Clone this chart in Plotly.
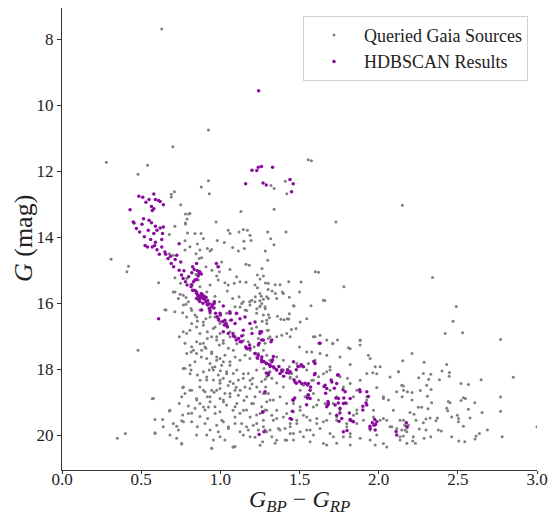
import plotly.graph_objects as go

# Queried Gaia sources: (BP-RP colour, G magnitude)
gaia_sources = [
    (0.63,7.69),(0.925,10.75),(0.70,11.26),(0.28,11.73),(0.54,11.82),(0.48,12.09),(0.925,12.29),(0.88,12.48),
    (0.69,12.70),(0.71,12.62),(0.69,12.78),(0.93,12.68),(0.75,13.02),(0.78,13.30),(0.80,13.30),(0.79,13.45),
    (0.78,13.60),(1.13,13.22),(1.41,12.30),(1.32,12.43),(1.34,12.52),(1.555,11.65),(1.575,11.68),(1.34,13.15),
    (1.42,12.68),(2.15,13.03),(1.73,13.54),(0.31,14.67),(0.42,14.88),(0.41,15.05),(0.61,15.38),(0.65,16.20),
    (0.48,17.43),(0.57,18.90),(0.35,20.10),(0.40,19.95),(1.78,15.50),(2.34,15.22),(1.66,15.92),(2.49,16.10),
    (2.47,16.55),(2.42,16.92),(2.53,16.90),(2.77,17.10),(2.85,18.25),(3.00,19.75),(2.78,20.05),(2.77,18.85),
    (2.77,19.28),(1.60,15.05),(1.62,15.06),
    # dense lower-left region
    (0.783,16.03),(0.815,16.16),(0.762,16.29),(0.713,16.26),(0.657,16.21),(0.787,16.42),(0.840,16.36),(0.871,16.21),
    (0.855,16.54),(0.909,16.47),(0.935,16.31),(0.966,16.42),(0.998,16.62),(1.040,16.31),(1.093,16.11),(1.135,16.01),
    (1.156,16.21),(1.187,16.06),(1.219,15.96),(1.250,16.11),(1.272,16.36),(1.293,16.52),(1.229,16.31),(0.819,16.62),
    (0.850,16.72),(0.893,16.67),(0.918,16.87),(0.956,16.77),(0.998,16.92),(0.766,16.87),(0.787,16.92),(0.741,17.02),
    (0.808,16.82),(0.871,16.92),(1.061,16.87),(1.093,17.02),(1.145,16.97),(1.198,16.77),(1.229,16.72),(1.261,16.87),
    (1.293,16.62),(1.303,16.82),(0.777,17.22),(0.819,17.32),(0.850,17.17),(0.893,17.22),(0.918,17.07),(0.945,17.02),
    (0.977,17.12),(0.994,17.27),(0.909,17.37),(0.882,17.43),(1.019,17.22),(1.051,17.37),(1.082,17.43),(1.177,17.17),
    (1.213,17.32),(1.240,17.07),(1.282,17.22),(1.303,17.07),(0.815,17.48),(0.850,17.53),(0.880,17.63),
    (0.914,17.68),(0.945,17.53),(0.977,17.73),(0.998,17.68),(1.029,17.58),(1.061,17.78),(1.093,17.63),(1.124,17.73),
    (1.156,17.58),(1.187,17.68),(1.240,17.53),(1.272,17.78),(1.293,17.58),(0.766,17.98),(0.808,17.88),(0.840,17.78),
    (0.935,17.83),(0.966,17.93),(1.008,17.88),(0.815,18.03),(0.855,18.18),(0.893,18.08),(0.930,18.03),(0.956,18.33),
    (0.987,18.18),(1.019,18.28),(1.040,18.08),(1.082,18.13),(1.114,18.33),(1.145,18.28),(1.177,18.13),(1.204,18.28),
    (1.229,18.03),(1.261,18.38),(1.293,18.23),(1.310,18.08),(0.914,18.33),(0.998,18.43),(1.061,18.38),(0.762,18.56),
    (0.808,18.64),(0.777,18.74),(0.871,18.54),(0.903,18.69),(0.945,18.64),(0.998,18.59),(1.029,18.74),(1.061,18.84),
    (1.093,18.64),(1.114,18.79),(1.156,18.54),(1.187,18.59),(1.219,18.84),(1.250,18.69),(1.286,18.54),(1.303,18.74),
    (0.756,18.84),(0.850,18.89),(0.918,18.84),(0.998,18.89),(0.741,19.04),(0.798,19.12),(0.840,19.19),
    (0.871,19.04),(0.903,19.24),(0.935,18.99),(0.966,19.14),(0.998,19.29),(1.040,19.09),(1.093,19.14),(1.124,19.34),
    (1.166,19.24),(1.198,19.04),(1.229,19.39),(1.261,19.14),(1.293,18.99),(0.678,19.27),(0.762,19.39),(0.819,19.34),
    (0.871,19.44),(0.587,19.53),(0.636,19.53),(0.703,19.65),(0.756,19.57),(0.724,19.73),(0.819,19.60),(0.855,19.75),
    (0.903,19.65),(0.935,19.85),(0.977,19.70),(1.019,19.60),(1.051,19.80),(1.093,19.65),(1.124,19.90),(1.166,19.75),
    (1.208,19.70),(1.240,19.85),(1.272,19.55),(1.293,19.90),(0.987,19.90),(0.587,19.93),(0.682,20.00),
    (0.724,20.10),(0.756,20.27),(0.850,20.00),(0.914,20.00),(0.956,20.15),(0.998,20.05),(1.029,20.15),(1.093,20.35),
    (0.945,20.40),(1.145,20.00),(1.219,20.07),(1.267,20.20),(1.08,20.36),
    # second pass over the main body
    (0.714,15.66),(0.746,15.73),(0.783,15.83),(0.767,16.06),(0.819,16.22),(0.851,16.42),(0.893,16.57),(0.935,16.42),
    (0.967,16.72),(0.998,16.57),(1.030,16.67),(1.061,16.52),(1.099,16.32),(1.125,16.12),(1.167,16.22),(1.198,15.91),
    (1.230,16.17),(1.262,16.01),(1.293,15.81),(1.356,15.86),(1.398,15.71),(1.436,16.32),(1.466,16.09),(1.504,16.57),
    (1.546,16.47),(1.588,17.02),(1.651,15.91),(1.710,17.23),(1.820,17.38),(1.883,17.13),(1.946,17.68),(1.988,18.14),
    (2.072,18.24),(2.125,18.08),(2.157,18.64),(2.030,18.84),(2.093,19.25),(2.157,19.55),(1.925,18.84),(1.862,18.64),
    (1.820,18.44),(1.777,18.54),(1.735,18.84),(1.693,18.64),(1.662,19.04),(1.620,18.94),(1.588,19.15),(1.546,19.45),
    (1.504,19.25),(1.462,19.04),(1.441,19.65),(1.398,19.45),(1.356,19.25),(1.314,18.94),(1.272,18.74),(1.230,18.54),
    (1.188,18.34),(1.146,18.14),(1.104,18.03),(1.061,17.88),(1.019,17.78),(0.977,17.63),(0.946,17.48),(0.903,17.33),
    (0.872,17.23),(0.830,17.43),(0.788,17.53),(0.777,17.98),(0.809,18.14),(0.767,18.54),(0.819,18.64),(0.851,18.94),
    (0.893,19.15),(0.798,19.35),(0.767,19.60),(0.735,19.85),(0.682,19.25),(0.577,18.89),(0.640,19.75),(0.588,19.95),
    (0.756,20.26),(0.946,20.41),(1.082,20.36),(1.188,20.05),(1.251,20.31),(1.356,20.16),(1.441,19.95),(1.567,19.85),
    (1.651,20.26),(1.714,20.05),(1.820,19.95),(1.946,19.85),(2.030,20.26),(2.135,20.05),(2.178,19.90),
    (0.914,18.24),(0.956,18.03),(0.998,18.34),(1.040,18.14),(1.082,18.44),(1.125,18.64),(1.167,18.84),(1.209,19.04),
    (0.977,18.64),(1.019,18.94),(1.061,18.74),(1.104,19.04),(1.146,19.25),(1.188,19.45),(0.935,18.84),(0.893,18.64),
    (0.872,18.34),(0.925,19.15),(0.967,19.35),(1.009,19.55),(1.051,19.75),(1.093,19.45),(1.135,19.65),(1.177,19.85),
    (1.230,19.65),(1.283,19.85),(1.325,20.05),(1.377,19.85),(1.419,20.16),(1.483,19.65),(1.525,20.05),(1.609,19.65),
    (1.672,19.55),(1.735,19.45),(1.798,19.65),(1.862,19.35),(1.904,19.55),(1.967,19.25),(2.009,19.55),(2.072,19.75),
    (1.293,19.25),(1.335,19.55),(1.251,19.35),(1.504,18.64),(1.546,18.84),(1.588,18.34),(1.651,18.14),(1.693,17.93),
    (1.546,18.03),(1.483,17.83),(1.441,18.24),(1.398,18.03),(1.356,17.63),(1.314,17.73),(1.272,17.43),(1.230,17.63),
    (1.188,17.43),(1.146,17.13),(1.104,17.23),(1.061,17.02),(1.019,17.13),(0.977,17.02),
    (0.95,17.95),(1.00,18.05),(1.05,18.50),(1.10,18.55),(0.96,18.70),(1.02,19.00),(1.08,19.25),(0.92,19.50),
    (1.15,18.95),(1.20,18.45),
    # upper turn-off region
    (0.808,13.28),(0.779,13.57),(0.973,13.54),(1.050,13.79),(1.061,13.89),(1.118,13.84),(1.145,13.77),(1.171,13.79),
    (1.187,13.94),(1.299,13.84),(0.678,13.92),(0.713,13.67),(0.793,13.87),(0.840,13.89),(0.878,13.89),(0.893,14.04),
    (0.777,14.11),(0.808,14.29),(0.855,14.21),(0.871,14.39),(0.918,14.34),(0.935,14.42),(0.945,14.37),(0.981,14.10),
    (1.025,14.16),(1.078,14.31),(1.114,14.42),(1.149,14.12),(1.194,14.10),(1.152,14.34),(1.284,14.42),(0.678,14.50),
    (0.703,14.55),(0.777,14.39),(0.846,14.50),(0.867,14.65),(0.882,14.62),(0.909,14.90),(0.947,15.00),(0.991,14.90),
    (0.994,15.05),(1.008,14.75),(1.061,14.98),(1.103,15.20),(1.162,14.82),(1.183,14.85),(1.234,15.15),(1.263,14.95),
    (1.299,14.70),(0.713,15.23),(0.749,15.40),(0.787,15.25),(0.815,15.43),(0.846,15.13),(0.861,15.30),(0.871,15.50),
    (0.935,15.45),(0.977,15.18),(0.987,15.30),(1.029,15.38),(1.050,15.45),(1.088,15.40),(1.124,15.35),(1.162,15.37),
    (1.219,15.45),(1.234,15.53),(1.272,15.18),(1.303,15.40),(0.703,15.66),(0.766,15.76),(0.735,15.86),(0.798,15.96),
    (0.829,15.61),(0.882,15.73),(0.914,15.66),(0.966,15.79),(0.994,15.96),(1.044,15.63),(1.078,15.86),(1.118,15.81),
    (1.145,15.96),(1.185,15.96),(1.221,15.81),(1.250,15.93),(1.282,16.11),(1.250,15.71),(1.303,15.86),
    # middle region
    (1.415,13.84),(1.318,14.05),(1.339,14.23),(1.251,15.27),(1.285,15.39),(1.346,15.44),(1.377,15.44),(1.432,15.35),
    (1.510,15.36),(1.302,15.59),(1.327,15.63),(1.348,15.71),(1.392,15.66),(1.436,15.82),(1.500,15.66),(1.259,15.79),
    (1.272,15.88),(1.462,16.08),(1.573,16.08),(1.251,16.09),(1.283,16.17),(1.304,16.35),(1.310,16.44),(1.361,16.40),
    (1.382,16.49),(1.403,16.50),(1.424,16.47),(1.432,16.48),(1.264,16.55),(1.297,16.82),(1.449,16.80),(1.478,16.77),
    # lower middle region
    (1.262,16.87),(1.314,17.02),(1.356,17.02),(1.388,16.97),(1.419,16.92),(1.441,17.02),(1.598,17.02),(1.630,16.97),
    (1.672,17.12),(1.710,17.22),(1.740,17.12),(1.809,17.35),(1.883,17.12),(1.883,17.27),(1.500,17.33),(1.546,17.48),
    (1.577,17.48),(1.630,17.53),(1.672,17.58),(1.756,17.63),(1.598,17.73),(1.556,17.83),(1.504,17.93),(1.820,17.86),
    (1.935,17.58),(1.978,17.93),(2.009,17.93),(2.152,17.75),(1.276,17.98),(1.314,18.08),(1.356,18.03),(1.398,17.73),
    (1.436,17.93),(1.451,18.13),(1.283,18.31),(1.325,18.28),(1.356,18.42),(1.398,18.54),(1.441,18.28),(1.483,18.23),
    (1.525,18.49),(1.577,18.34),(1.620,18.23),(1.672,18.08),(1.693,18.03),(1.756,18.23),(1.803,18.28),(1.883,18.34),
    (1.925,18.13),(1.963,18.11),(1.988,18.56),(2.125,18.08),(2.146,18.49),(2.182,18.69),(2.114,18.69),(2.030,18.89),
    (2.062,18.94),(1.283,18.74),(1.335,18.94),(1.377,18.84),(1.419,19.04),(1.462,18.94),(1.504,19.14),(1.535,18.84),
    (1.588,18.74),(1.609,19.09),(1.672,19.09),(1.714,19.04),(1.756,19.24),(1.799,19.04),(1.841,18.84),(1.862,19.24),
    (1.925,18.94),(1.967,19.45),(1.841,19.40),(1.283,19.24),(1.325,19.40),(1.356,19.50),(1.419,19.35),(1.462,19.29),
    (1.483,19.55),(1.525,19.40),(1.567,19.55),(1.609,19.50),(1.651,19.60),(1.693,19.35),(1.735,19.55),(1.799,19.75),
    (1.862,19.65),(1.946,19.80),(2.030,19.50),(2.051,19.55),(2.083,19.75),(2.114,19.80),(2.135,19.55),(2.167,19.85),
    (2.188,19.70),(1.272,19.75),(1.314,19.85),(1.367,19.80),(1.409,19.80),(1.441,19.75),(1.462,19.95),(1.504,19.90),
    (1.546,19.85),(1.588,20.00),(1.630,19.80),(1.693,19.95),(1.777,20.05),(1.820,20.05),(1.883,20.10),(1.946,20.15),
    (1.988,20.00),(2.051,20.36),(2.135,20.15),(2.178,20.25),(1.346,20.25),(1.409,20.15),(1.462,20.15),(1.567,20.20),
    (1.672,20.30),(1.735,20.25),(1.820,20.30),(1.978,20.30),
    # red tail
    (2.211,17.53),(2.287,17.79),(2.430,17.86),(2.400,18.06),(2.447,18.10),(2.445,18.22),(2.282,18.13),(2.329,18.16),
    (2.253,18.26),(2.316,18.31),(2.384,18.32),(2.520,18.44),(2.567,18.47),(2.647,18.32),(2.156,18.51),(2.263,18.65),
    (2.303,18.49),(2.331,18.62),(2.211,18.71),(2.148,18.84),(2.211,18.94),(2.308,18.82),(2.335,19.02),(2.440,18.98),
    (2.451,19.02),(2.520,18.95),(2.535,18.87),(2.548,18.89),(2.607,19.02),(2.251,19.16),(2.272,19.16),(2.312,19.20),
    (2.430,19.19),(2.436,19.26),(2.567,19.22),(2.653,19.32),(2.198,19.32),(2.223,19.37),(2.299,19.51),(2.325,19.48),
    (2.362,19.57),(2.371,19.48),(2.461,19.45),(2.497,19.40),(2.504,19.50),(2.577,19.48),(2.504,19.60),(2.236,19.55),
    (2.282,19.63),(2.535,19.73),(2.687,19.85),(2.164,19.70),(2.181,19.78),(2.146,19.85),(2.257,19.82),(2.299,19.85),
    (2.377,19.85),(2.396,19.88),(2.636,19.95),(2.615,20.03),(2.461,20.05),(2.609,20.12),(2.219,20.05),(2.156,20.03),
    (2.287,20.10),(2.329,20.05),(2.506,20.18),(2.544,20.20),(2.215,20.18),(2.232,20.25),
]

# HDBSCAN cluster members: (BP-RP colour, G magnitude)
hdbscan_members = [
    (1.242,9.56),(1.20,11.97),(1.23,11.98),(1.24,11.88),(1.26,11.86),(1.33,11.88),(1.16,12.38),(1.27,12.36),
    (1.29,12.42),(1.44,12.25),(1.46,12.38),(1.45,12.62),(0.61,16.47),
    (0.43,13.17),(0.485,12.76),(0.51,12.79),(0.58,12.69),(0.53,12.94),(0.55,12.86),(0.59,12.86),(0.61,12.89),
    (0.62,12.92),(0.64,13.02),(0.565,13.07),(0.58,13.14),(0.57,13.19),(0.45,13.54),(0.455,13.57),(0.47,13.74),
    (0.49,13.84),(0.505,13.61),(0.515,13.44),(0.52,13.99),(0.545,13.79),(0.55,13.49),(0.565,13.56),(0.58,13.89),
    (0.59,13.67),(0.60,13.79),(0.62,13.72),(0.635,13.89),(0.64,13.69),(0.63,14.07),(0.525,14.25),(0.54,14.30),
    (0.56,14.07),(0.57,14.30),(0.585,14.25),(0.60,14.38),(0.59,14.15),(0.615,14.52),(0.63,14.30),(0.65,14.45),
    (0.655,14.52),(0.67,14.65),(0.685,14.58),(0.69,14.80),(0.705,14.90),(0.715,14.68),(0.725,14.55),(0.74,14.20),
    (0.75,14.75),(0.74,15.00),(0.755,15.15),(0.765,15.25),(0.77,15.02),(0.78,15.35),(0.79,15.45),(0.80,15.20),
    (0.82,15.08),(0.825,14.90),(0.835,14.98),(0.85,14.80),(0.855,15.02),(0.865,15.10),(0.84,15.30),(0.815,15.50),
    (0.825,15.61),(0.85,15.66),(0.86,15.76),(0.87,15.81),(0.88,15.71),(0.89,15.86),(0.90,15.81),(0.85,15.86),
    (0.865,15.91),(0.91,15.96),(0.92,16.06),(0.93,16.16),(0.935,16.26),(0.945,16.11),(0.96,16.01),(0.975,14.80),
    (0.985,14.90),(0.97,16.31),(0.98,16.41),(0.99,16.51),(1.00,16.36),(1.015,16.56),(1.025,16.66),(1.035,16.61),
    (1.045,16.72),(1.06,16.26),(1.07,16.51),(1.08,16.92),(1.09,17.02),(1.10,17.12),(1.115,17.07),(1.125,17.17),
    (1.135,17.00),(1.145,16.82),(1.16,17.33),(1.17,17.38),(1.185,17.27),(1.20,16.92),(1.22,17.53),(1.235,17.67),
    (1.245,17.22),(1.26,16.87),(1.26,17.72),(1.275,17.77),(1.29,17.82),(1.31,17.87),(1.315,17.92),(1.33,17.72),
    (1.34,17.97),(1.355,18.02),(1.37,17.92),(1.29,18.12),(1.32,17.17),(1.335,17.62),(1.39,18.07),(1.40,18.22),
    (1.425,18.02),(1.435,18.12),(1.48,18.02),(1.49,17.92),(1.51,17.87),(1.465,18.32),(1.48,18.43),(1.50,18.38),
    (1.535,18.43),(1.55,18.48),(1.59,17.77),(1.595,18.17),(1.62,18.43),(1.555,18.78),(1.55,18.88),(1.545,19.08),
    (1.47,18.88),(1.455,19.28),(1.625,17.22),(1.655,18.53),(1.665,18.73),(1.68,18.98),(1.68,19.08),(1.70,18.33),
    (1.72,18.58),(1.73,18.88),(1.74,18.18),(1.745,19.03),(1.755,19.33),(1.75,19.58),(1.775,18.63),(1.78,18.88),
    (1.79,19.03),(1.80,19.86),(1.815,19.33),(1.82,19.53),(1.835,19.58),(1.88,18.63),(1.90,19.13),(1.92,19.03),
    (1.935,18.83),(1.945,19.73),(1.96,19.63),(1.975,19.53),(1.98,19.68),(2.11,19.89),(2.175,19.63),(1.245,19.98),
    (1.268,19.31),(1.45,19.52),(1.457,18.94),(1.57,18.54),
    (0.86,15.78),(0.87,15.85),(0.88,15.80),(0.89,15.75),(0.90,15.88),(0.91,15.82),(0.92,15.92),(0.87,15.95),
    (0.89,16.00),(0.93,16.02),(0.95,16.05),(0.96,16.15),(0.84,15.62),(0.85,15.70),(0.82,15.45),(0.83,15.35),
    (0.85,15.28),(0.86,15.18),(0.87,15.05),(0.88,15.12),
    (0.882,16.21),(0.918,16.03),(0.935,16.21),(0.962,15.96),(0.998,16.31),(1.019,16.09),(0.987,16.47),(1.029,16.52),
    (1.040,16.67),(1.061,16.31),(1.103,16.31),(1.093,16.62),(1.124,16.47),(1.156,16.42),(1.187,16.62),(1.219,16.57),
    (1.019,16.87),(1.050,16.92),(1.082,17.00),(1.114,17.07),(1.135,17.17),(1.166,17.37),(1.187,17.37),(1.240,17.27),
    (1.250,16.92),(1.261,17.12),(1.219,17.53),(1.240,17.58),(1.261,17.78),(1.293,17.83),(1.303,18.18),(1.282,18.69),
    (1.251,16.87),(1.272,17.12),(1.325,17.12),(1.262,17.63),(1.293,17.83),(1.314,17.88),(1.325,17.78),(1.335,17.93),
    (1.356,18.03),(1.388,18.03),(1.304,18.13),(1.377,18.13),(1.419,18.11),(1.441,18.08),(1.462,17.78),(1.514,17.88),
    (1.525,17.93),(1.630,17.22),(1.598,17.83),(1.472,18.39),(1.514,18.44),(1.556,18.44),(1.567,18.64),(1.598,18.13),
    (1.662,18.49),(1.672,18.59),(1.704,18.39),(1.735,18.44),(1.746,18.18),(1.788,18.69),(1.820,18.89),(1.883,18.69),
    (1.925,18.69),(1.900,19.24),(1.925,19.09),(1.746,18.89),(1.725,19.09),(1.756,19.19),(1.777,19.04),(1.683,19.04),
    (1.672,19.14),(1.556,18.79),(1.567,18.89),(1.462,18.94),(1.441,19.50),(1.735,19.40),(1.767,19.50),(1.820,19.55),
    (1.841,19.60),(1.777,19.90),(1.946,19.80),(1.971,19.70),(1.978,19.85),(1.988,19.60),(2.114,20.00),(2.178,19.75),
    (1.268,19.29),(1.276,19.90),
]

gaia_color = [p[0] for p in gaia_sources]
gaia_mag = [p[1] for p in gaia_sources]
hdb_color = [p[0] for p in hdbscan_members]
hdb_mag = [p[1] for p in hdbscan_members]

x_ticks = [0.0, 0.5, 1.0, 1.5, 2.0, 2.5, 3.0]
y_ticks = [8, 10, 12, 14, 16, 18, 20]

FONT = "Liberation Serif"
TXT = "#222222"

fig = go.Figure()
fig.add_trace(go.Scatter(
    x=gaia_color, y=gaia_mag, mode="markers", name="Queried Gaia Sources",
    marker=dict(color="#7f7f7f", size=3, line=dict(width=0)),
))
fig.add_trace(go.Scatter(
    x=hdb_color, y=hdb_mag, mode="markers", name="HDBSCAN Results",
    marker=dict(color="#8a0a9e", size=3.5, line=dict(width=0)),
))

fig.update_layout(
    width=550, height=516,
    margin=dict(l=62, r=13, t=8, b=46),
    paper_bgcolor="white", plot_bgcolor="white",
    font=dict(family=FONT, color=TXT, size=17),
    showlegend=True,
    legend=dict(
        x=0.981, y=0.983, xanchor="right", yanchor="top",
        bgcolor="white", bordercolor="#d0d0d0", borderwidth=1,
        font=dict(family=FONT, size=18, color=TXT),
        itemsizing="trace", itemwidth=50,
    ),
    annotations=[
        dict(text="<i>G</i><sub><i>BP</i></sub> − <i>G</i><sub><i>RP</i></sub>",
             xref="paper", yref="paper", x=0.5, y=-0.031, xanchor="center", yanchor="top",
             showarrow=False, font=dict(family=FONT, size=24, color=TXT)),
        dict(text="<i>G</i> (mag)",
             xref="paper", yref="paper", x=-0.082, y=0.5, xanchor="center", yanchor="middle",
             textangle=-90, showarrow=False, font=dict(family=FONT, size=26, color=TXT)),
    ],
)
fig.update_xaxes(
    range=[0, 3], tickvals=x_ticks, ticktext=[f"{v:.1f}" for v in x_ticks],
    showgrid=False, zeroline=False, showline=True, linecolor="#333333", linewidth=1.2,
    ticks="outside", ticklen=3, tickcolor="#333333", automargin=False,
    ticklabelstandoff=-10,
    tickfont=dict(family=FONT, size=17, color=TXT),
)
fig.update_yaxes(
    range=[21.06, 7.05], tickvals=y_ticks, ticktext=[str(v) for v in y_ticks],
    showgrid=False, zeroline=False, showline=True, linecolor="#333333", linewidth=1.2,
    ticks="outside", ticklen=4, tickcolor="#333333", automargin=False,
    tickfont=dict(family=FONT, size=17, color=TXT),
)

fig.write_html("out.html")
